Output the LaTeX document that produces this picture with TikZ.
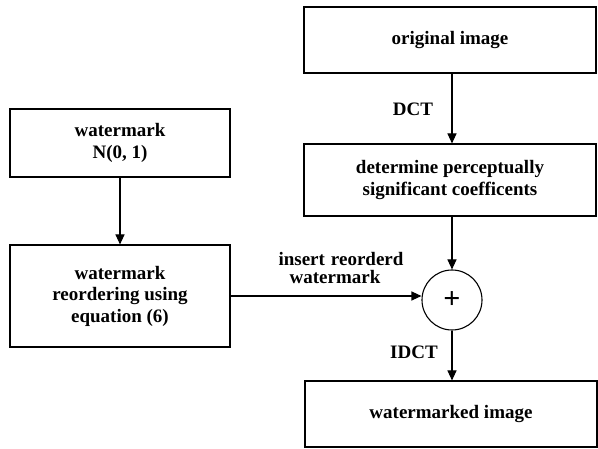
\documentclass[tikz,border=0pt]{standalone}
\usepackage{fontspec}
\setmainfont{Liberation Serif}
\usetikzlibrary{arrows.meta}
\begin{document}
\begin{tikzpicture}[x=1pt,y=-1pt,
  box/.style={draw,line width=1.1pt,inner sep=0pt,align=center,font=\fontsize{19}{21.5}\selectfont\bfseries},
  lbl/.style={font=\fontsize{19}{18}\selectfont\bfseries,inner sep=0pt,align=center},
  arr/.style={draw,line width=1.1pt,-{Triangle[length=10pt,width=9pt]}}]
\useasboundingbox (0,0) rectangle (598,449);
\node[box,minimum width=292pt,minimum height=66pt] (orig) at (450,40) {original image};
\node[box,minimum width=292pt,minimum height=72pt] (det) at (450,180) {determine perceptually\\significant coefficents};
\node[box,minimum width=220pt,minimum height=68pt] (wm) at (120,143) {watermark\\N(0, 1)};
\node[box,minimum width=220pt,minimum height=102pt] (reo) at (120,296) {watermark\\reordering using\\equation (6)};
\node[draw,circle,line width=1.1pt,minimum size=60pt,inner sep=0pt,font=\fontsize{30}{30}\selectfont\bfseries] (plus) at (452,300) {+};
\node[box,minimum width=292pt,minimum height=66pt] (out) at (451,414) {watermarked image};
\path[arr] (orig.south -| 452,0) -- (det.north -| 452,0);
\path[arr] (wm) -- (reo);
\path[arr] (det.south -| plus) -- (plus);
\path[arr] (plus) -- (out.north -| plus);
\path[arr] (reo.east |- 0,296) -- (plus.west |- 0,296);
\node[lbl] (dct) at (413,109) {DCT};
\node[lbl] (idct) at (414,352) {IDCT};
\node[lbl,anchor=south] (ins) at (341,284) {insert\hspace{6pt}reorderd\\\hspace*{-12pt}watermark};
\end{tikzpicture}
\end{document}
